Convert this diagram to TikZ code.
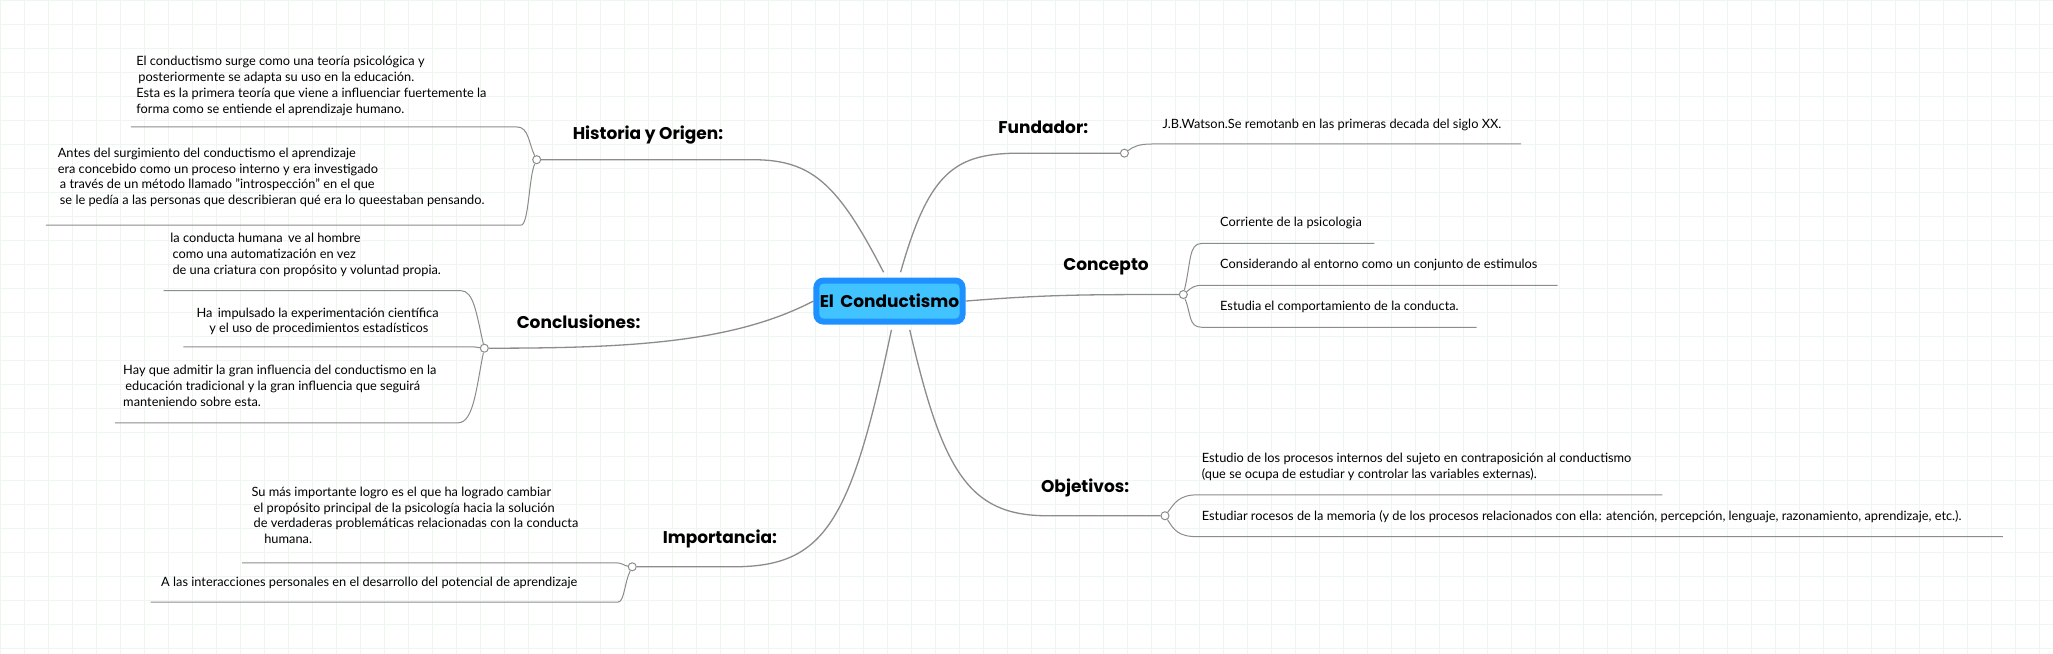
\documentclass[tikz,border=0pt]{standalone}
\usepackage{fontspec}
\setmainfont{Lato}
\newfontfamily\headfont{Poppins}
\begin{document}
\begin{tikzpicture}[x=1.309pt,y=-1.309pt,
  br/.style={draw=black!45,line width=1.3pt},
  lf/.style={draw=black!45,line width=1pt},
  dot/.style={circle,draw=black!45,fill=white,line width=1pt,minimum size=8pt,inner sep=0pt},
  hd/.style={font=\headfont\bfseries\fontsize{17}{20}\selectfont,inner sep=0pt},
  tx/.style={font=\fontsize{12.8}{15.7}\selectfont,align=left,anchor=north west,inner sep=0pt}]
\useasboundingbox (0,0) rectangle (1568.4,499.6);
\fill[white] (0,0) rectangle (1568.4,499.6);
\foreach \i in {0,...,86} \draw[green!40!gray!10,line width=0.6pt] (\i*18.33,0) -- (\i*18.33,499.6);
\foreach \j in {0,...,28} \draw[green!40!gray!10,line width=0.6pt] (0,\j*18.33) -- (1568.4,\j*18.33);

% center
\node[draw={rgb,255:red,30;green,144;blue,255},line width=6pt,fill={rgb,255:red,64;green,195;blue,255},rounded corners=7pt,
  minimum width=131,minimum height=41,font=\headfont\bfseries\fontsize{17}{20}\selectfont] (c) at (679.5,230) {El\, Conductismo};

% circles
\node[dot] (h) at (410,122) {};
\node[dot] (f) at (859,117) {};
\node[dot] (k) at (904,225) {};
\node[dot] (o) at (890,394) {};
\node[dot] (i) at (483,433) {};
\node[dot] (s) at (370,266) {};

% labels
\node[hd] (hl) at (495,103) {Historia y Origen:};
\node[hd] (fl) at (797,97) {Fundador:};
\node[hd] (kl) at (845,204) {Concepto};
\node[hd] (ol) at (829,373) {Objetivos:};
\node[hd] (il) at (550,412) {Importancia:};
\node[hd] (sl) at (442,246) {Conclusiones:};

% main branches
\draw[br] (675,208) .. controls (640,140) and (620,122) .. (575,122) -- (h);
\draw[br] (688,208) .. controls (710,130) and (730,117) .. (780,117) -- (f);
\draw[br] (c.east) .. controls (800,225) and (830,225) .. (k);
\draw[br] (695,252) .. controls (720,360) and (740,394) .. (800,394) -- (o);
\draw[br] (681,252) .. controls (650,400) and (630,433) .. (560,433) -- (i);
\draw[br] (c.west) .. controls (560,262) and (480,266) .. (s);

% Historia children
\coordinate (h1) at (100,97); \coordinate (h1r) at (395,97);
\coordinate (h2) at (35,172); \coordinate (h2r) at (398,172);
\draw[lf] (h) .. controls (404,110) and (404,97) .. (h1r) -- (h1);
\draw[lf] (h) .. controls (404,135) and (404,172) .. (h2r) -- (h2);
\node[tx] (ht1) at (104,43) {El conductismo surge como una teoría psicológica y\\ \,posteriormente se adapta su uso en la educación.\\ Esta es la primera teoría que viene a influenciar fuertemente la\\ forma como se entiende el aprendizaje humano.};
\node[tx] (ht2) at (44,113) {Antes del surgimiento del conductismo el aprendizaje\\ era concebido como un proceso interno y era investigado\\ \,a través de un método llamado "introspección" en el que\\ \,se le pedía a las personas que describieran qué era lo queestaban pensando.};

% Fundador
\coordinate (f1) at (1162,110);
\draw[lf] (f) .. controls (866,112) and (870,110) .. (880,110) -- (f1);
\node[tx] (ft) at (888,91) {J.B.Watson.Se remotanb en las primeras decada del siglo XX.};

% Concepto
\coordinate (k1l) at (918,186); \coordinate (k1) at (1050,186);
\coordinate (k2l) at (918,218); \coordinate (k2) at (1190,218);
\coordinate (k3l) at (918,250); \coordinate (k3) at (1128,250);
\draw[lf] (k) .. controls (910,200) and (908,186) .. (k1l) -- (k1);
\draw[lf] (k) .. controls (910,220) and (912,218) .. (k2l) -- (k2);
\draw[lf] (k) .. controls (910,240) and (908,250) .. (k3l) -- (k3);
\node[tx] (kt1) at (932,166) {Corriente de la psicologia};
\node[tx] (kt2) at (932,198) {Considerando al entorno como un conjunto de estimulos};
\node[tx] (kt3) at (932,230) {Estudia el comportamiento de la conducta.};

% Objetivos
\coordinate (o1l) at (915,378); \coordinate (o1) at (1270,378);
\coordinate (o2l) at (915,410); \coordinate (o2) at (1530,410);
\draw[lf] (o) .. controls (897,385) and (900,378) .. (o1l) -- (o1);
\draw[lf] (o) .. controls (897,405) and (900,410) .. (o2l) -- (o2);
\node[tx] (ot1) at (918,346) {Estudio de los procesos internos del sujeto en contraposición al conductismo\\ (que se ocupa de estudiar y controlar las variables externas).};
\node[tx] (ot2) at (918,390) {Estudiar rocesos de la memoria (y de los procesos relacionados con ella: atención, percepción, lenguaje, razonamiento, aprendizaje, etc.).};

% Importancia
\coordinate (i1) at (185,430); \coordinate (i1r) at (470,430);
\coordinate (i2) at (115,460); \coordinate (i2r) at (472,460);
\draw[lf] (i) .. controls (476,432) and (476,430) .. (i1r) -- (i1);
\draw[lf] (i) .. controls (477,445) and (477,460) .. (i2r) -- (i2);
\node[tx] (it1) at (192,372) {Su más importante logro es el que ha logrado cambiar\\ \,el propósito principal de la psicología hacia la solución\\ \,de verdaderas problemáticas relacionadas con la conducta\\ \quad humana.};
\node[tx] (it2) at (123,441) {A las interacciones personales en el desarrollo del potencial de aprendizaje};

% Conclusiones
\coordinate (s1) at (125,222); \coordinate (s1r) at (352,222);
\coordinate (s2) at (140,265); \coordinate (s2r) at (362,265);
\coordinate (s3) at (88,323); \coordinate (s3r) at (350,323);
\draw[lf] (s) .. controls (364,240) and (362,222) .. (s1r) -- (s1);
\draw[lf] (s) -- (s2r) -- (s2);
\draw[lf] (s) .. controls (364,295) and (362,323) .. (s3r) -- (s3);
\node[tx] (st1) at (130,178) {la conducta humana\, ve al hombre\\ \,como una automatización en vez\\ \,de una criatura con propósito y voluntad propia.};
\node[tx] (st2) at (150,235) {Ha\, impulsado la experimentación científica\\ \quad y el uso de procedimientos estadísticos};
\node[tx] (st3) at (94,279) {Hay que admitir la gran influencia del conductismo en la\\ \,educación tradicional y la gran influencia que seguirá\\ manteniendo sobre esta.};
\end{tikzpicture}
\end{document}
